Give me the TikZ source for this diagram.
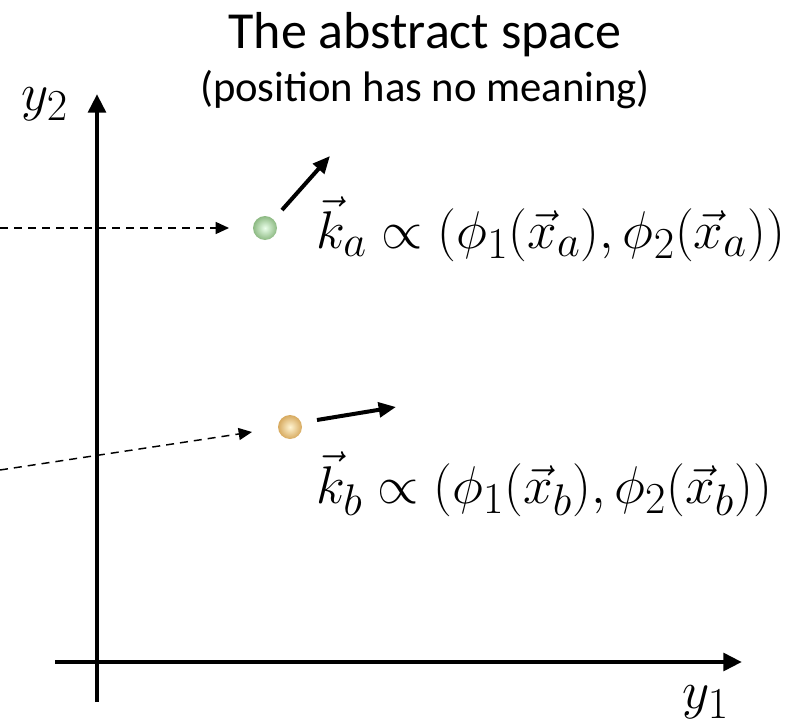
\documentclass[tikz,border=0pt]{standalone}
\usepackage{fontspec}
\setmainfont{Carlito}
\usetikzlibrary{arrows.meta}
\newcommand{\bigmath}[2]{\scalebox{#1}{\fontsize{24.88}{30}\selectfont$#2$}}
\begin{document}
\begin{tikzpicture}[x=0.75pt,y=-0.75pt,
  axis/.style={line width=3.6pt,-{Triangle[length=14pt,width=13pt]}},
  vel/.style={line width=3pt,-{Triangle[length=13pt,width=11pt]}},
  dash arrow/.style={line width=1.1pt,dash pattern=on 6pt off 4.5pt,-{Triangle[length=10pt,width=9pt]}},
  ball/.style={circle,minimum size=18pt,inner sep=0pt},
  formula/.style={anchor=west,inner sep=0pt},
  axlabel/.style={inner sep=0pt}]
\useasboundingbox (0,0) rectangle (790,728);
% title
\node[inner sep=0pt,font=\fontsize{39}{46}\selectfont] (title) at (425,35) {The abstract space};
\node[inner sep=0pt,font=\fontsize{32}{38}\selectfont] (sub) at (425,90) {(position has no meaning)};
% axes
\coordinate (yb) at (97,702);
\coordinate (yt) at (97,94);
\coordinate (xl) at (55,662);
\coordinate (xr) at (742,662);
\draw[axis] (yb) -- (yt);
\draw[axis] (xl) -- (xr);
\node[axlabel] (ylab) at (45,104) {\bigmath{1.6}{y_2}};
\node[axlabel] (xlab) at (706,702) {\bigmath{1.6}{y_1}};
% balls
\node[ball,shading=radial,inner color=green!8!white,outer color={rgb,255:red,140;green,185;blue,130}] (A) at (265,228) {};
\node[ball,shading=radial,inner color={rgb,255:red,255;green,244;blue,210},outer color={rgb,255:red,215;green,170;blue,95}] (B) at (290,427) {};
% dashed incoming
\coordinate (ain) at (0,228);
\coordinate (bin) at (0,470);
\draw[dash arrow] (ain) -- ([xshift=-27pt]A.center);
\draw[dash arrow] (bin) -- (252,432);
% velocity arrows
\coordinate (av) at (330,156);
\coordinate (bv) at (396,407);
\draw[vel] (282,210) -- (av);
\draw[vel] (317,420) -- (bv);
% formulas
\node[formula] (ka) at (316,229) {\bigmath{1.6}{\vec{k}_a \propto \Bigl(\phi_1(\vec{x}_a), \phi_2(\vec{x}_a)\Bigr)}};
\node[formula] (kb) at (316,484) {\bigmath{1.6}{\vec{k}_b \propto \Bigl(\phi_1(\vec{x}_b), \phi_2(\vec{x}_b)\Bigr)}};
\end{tikzpicture}
\end{document}
